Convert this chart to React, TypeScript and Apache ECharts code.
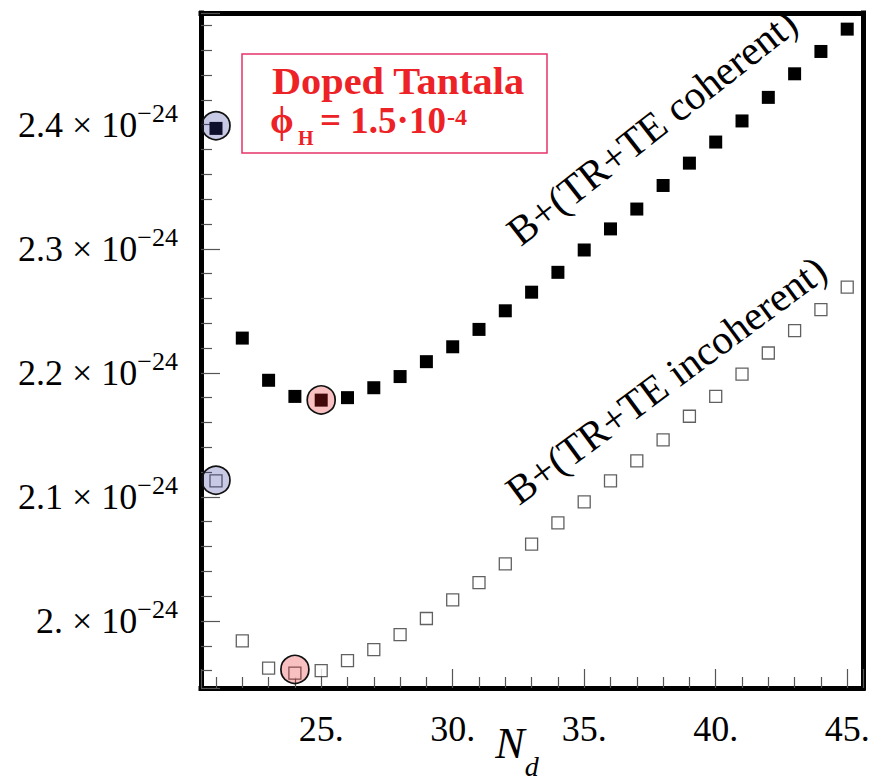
import React, { useEffect, useRef } from 'react';
import * as echarts from 'echarts';

// Number of dielectric layers
const nd = [21, 22, 23, 24, 25, 26, 27, 28, 29, 30, 31, 32, 33, 34, 35, 36, 37, 38, 39, 40, 41, 42, 43, 44, 45];
// B+(TR+TE coherent), units of 1e-24
const coherent = [2.397, 2.228, 2.194, 2.181, 2.178, 2.18, 2.188, 2.197, 2.209, 2.221, 2.235, 2.25, 2.265, 2.281, 2.299, 2.316, 2.332, 2.351, 2.369, 2.386, 2.403, 2.422, 2.441, 2.459, 2.477];
// B+(TR+TE incoherent), units of 1e-24
const incoherent = [2.113, 1.984, 1.962, 1.958, 1.96, 1.968, 1.977, 1.989, 2.002, 2.017, 2.031, 2.046, 2.062, 2.079, 2.096, 2.113, 2.129, 2.146, 2.165, 2.181, 2.199, 2.216, 2.234, 2.251, 2.269];
// highlighted points
const blueX = [21, 21];
const blueY = [2.3992, 2.1135];
const redX = [25, 24];
const redY = [2.1782, 1.961];

const xTickValues = [25, 30, 35, 40, 45];
const xTickLabels = ['25.', '30.', '35.', '40.', '45.'];
const yTickValues = [2.0, 2.1, 2.2, 2.3, 2.4];
const yTickLabels = ['2.', '2.1', '2.2', '2.3', '2.4'];
const yExponent = '\u221224';

const X_MIN = 20.43;
const X_MAX = 45.6;
const Y_MIN = 1.946;
const Y_MAX = 2.49;

const SERIF = '"Liberation Serif", "Times New Roman", serif';
const RED = '#ec2227';

function findLabel(v: number, vals: number[], labels: string[]) {
  for (let i = 0; i < vals.length; i++) {
    if (Math.abs(v - vals[i]) < 1e-6) return labels[i];
  }
  return null;
}

export default function App() {
  const ref = useRef<HTMLDivElement>(null);
  useEffect(() => {
    if (!ref.current) return;
    const chart = echarts.init(ref.current, null, { renderer: 'svg' });
    const tickStyle = { color: '#555', width: 1.2 };
    const frameLine = { show: true, onZero: false, lineStyle: { color: '#000', width: 5, cap: 'square' } };
    const option: any = {
      animation: false,
      backgroundColor: '#fff',
      grid: {
        left: 201, top: 13, width: 662, height: 675,
        show: false, containLabel: false, outerBoundsMode: 'none',
      },
      xAxis: [
        {
          type: 'value', min: X_MIN, max: X_MAX, splitNumber: 5, position: 'bottom',
          axisLine: frameLine, splitLine: { show: false },
          axisTick: { show: true, inside: true, length: 19, lineStyle: tickStyle },
          minorTick: { show: true, splitNumber: 5, length: 11, lineStyle: tickStyle },
          axisLabel: {
            margin: 23, fontSize: 36, fontFamily: SERIF, color: '#000',
            showMinLabel: false, showMaxLabel: false, hideOverlap: false,
            formatter: (v: number) => findLabel(v, xTickValues, xTickLabels) ?? '',
          },
          name: '{n|N}{d|d}', nameLocation: 'middle', nameGap: 19, nameMoveOverlap: false,
          nameTextStyle: {
            padding: [0, 30, 0, 0],
            rich: {
              n: { fontSize: 44, fontStyle: 'italic', fontFamily: SERIF, color: '#000', lineHeight: 73 },
              d: { fontSize: 28, fontStyle: 'italic', fontFamily: SERIF, color: '#000', verticalAlign: 'bottom', lineHeight: 28 },
            },
          },
        },
        {
          type: 'value', min: X_MIN, max: X_MAX, position: 'top',
          axisLine: frameLine, splitLine: { show: false },
          axisTick: { show: false }, axisLabel: { show: false },
        },
      ],
      yAxis: [
        {
          type: 'value', min: Y_MIN, max: Y_MAX, splitNumber: 5, position: 'left',
          axisLine: frameLine, splitLine: { show: false },
          axisTick: { show: true, inside: true, length: 19, lineStyle: tickStyle },
          minorTick: { show: true, splitNumber: 5, length: 11, lineStyle: tickStyle },
          axisLabel: {
            margin: 23, color: '#000',
            showMinLabel: false, showMaxLabel: false, hideOverlap: false,
            formatter: (v: number) => {
              const l = findLabel(v, yTickValues, yTickLabels);
              return l == null ? '' : `{m|${l} \u00d7 10}{s|${yExponent}}`;
            },
            rich: {
              m: { fontSize: 36, fontFamily: SERIF, color: '#000', lineHeight: 48 },
              s: { fontSize: 26, fontFamily: SERIF, color: '#000', verticalAlign: 'top', lineHeight: 26 },
            },
          },
        },
        {
          type: 'value', min: Y_MIN, max: Y_MAX, position: 'right',
          axisLine: frameLine, splitLine: { show: false },
          axisTick: { show: false }, axisLabel: { show: false },
        },
      ],
      series: [
        {
          type: 'scatter', silent: true, z: 2,
          data: nd.map((x, i) => [x, incoherent[i]]),
          symbol: 'rect', symbolSize: 12,
          itemStyle: { color: '#fff', borderColor: '#3a3a3a', borderWidth: 1.3 },
        },
        {
          type: 'scatter', silent: true, z: 2,
          data: nd.map((x, i) => [x, coherent[i]]),
          symbol: 'rect', symbolSize: 13,
          itemStyle: { color: '#000', opacity: 1 },
        },
        {
          type: 'scatter', silent: true, z: 3,
          data: blueX.map((x, i) => [x, blueY[i]]),
          symbol: 'circle', symbolSize: 28,
          itemStyle: { color: 'rgba(50,60,160,0.27)', borderColor: '#111', borderWidth: 1.7, opacity: 1 },
        },
        {
          type: 'scatter', silent: true, z: 3,
          data: redX.map((x, i) => [x, redY[i]]),
          symbol: 'circle', symbolSize: 28,
          itemStyle: { color: 'rgba(230,30,30,0.28)', borderColor: '#111', borderWidth: 1.7, opacity: 1 },
        },
      ],
      graphic: [
        {
          type: 'rect', z: 10, silent: true,
          shape: { x: 242, y: 54, width: 305, height: 99 },
          style: { fill: '#fff', stroke: '#e6336a', lineWidth: 1.5 },
        },
        {
          type: 'text', z: 11, x: 272, y: 82, scaleX: 1.09, silent: true,
          style: { text: 'Doped Tantala', fontSize: 37, fontWeight: 'bold', fontFamily: SERIF, fill: RED, align: 'left', verticalAlign: 'middle' },
        },
        {
          type: 'text', z: 11, x: 270, y: 120, silent: true,
          style: { text: '\u03d5', fontSize: 38, fontWeight: 'bold', fontFamily: SERIF, fill: RED, align: 'left', verticalAlign: 'middle' },
        },
        {
          type: 'text', z: 11, x: 298, y: 138, silent: true,
          style: { text: 'H', fontSize: 20, fontWeight: 'bold', fontFamily: SERIF, fill: RED, align: 'left', verticalAlign: 'middle' },
        },
        {
          type: 'text', z: 11, x: 320, y: 120, silent: true,
          style: { text: '= 1.5\u00b710', fontSize: 37, fontWeight: 'bold', fontFamily: SERIF, fill: RED, align: 'left', verticalAlign: 'middle' },
        },
        {
          type: 'text', z: 11, x: 447, y: 117, silent: true,
          style: { text: '-4', fontSize: 24, fontWeight: 'bold', fontFamily: SERIF, fill: RED, align: 'left', verticalAlign: 'middle' },
        },
        {
          type: 'text', z: 11, x: 652, y: 127, rotation: (38 * Math.PI) / 180, silent: true,
          style: { text: 'B+(TR+TE coherent)', fontSize: 41, fontFamily: SERIF, fill: '#000', align: 'center', verticalAlign: 'middle' },
        },
        {
          type: 'text', z: 11, x: 666, y: 380, rotation: (36.5 * Math.PI) / 180, silent: true,
          style: { text: 'B+(TR+TE incoherent)', fontSize: 41, fontFamily: SERIF, fill: '#000', align: 'center', verticalAlign: 'middle' },
        },
      ],
    };
    chart.setOption(option);
    return () => chart.dispose();
  }, []);
  return <div ref={ref} style={{ position: 'absolute', left: 0, top: 0, width: 871, height: 780 }} />;
}
